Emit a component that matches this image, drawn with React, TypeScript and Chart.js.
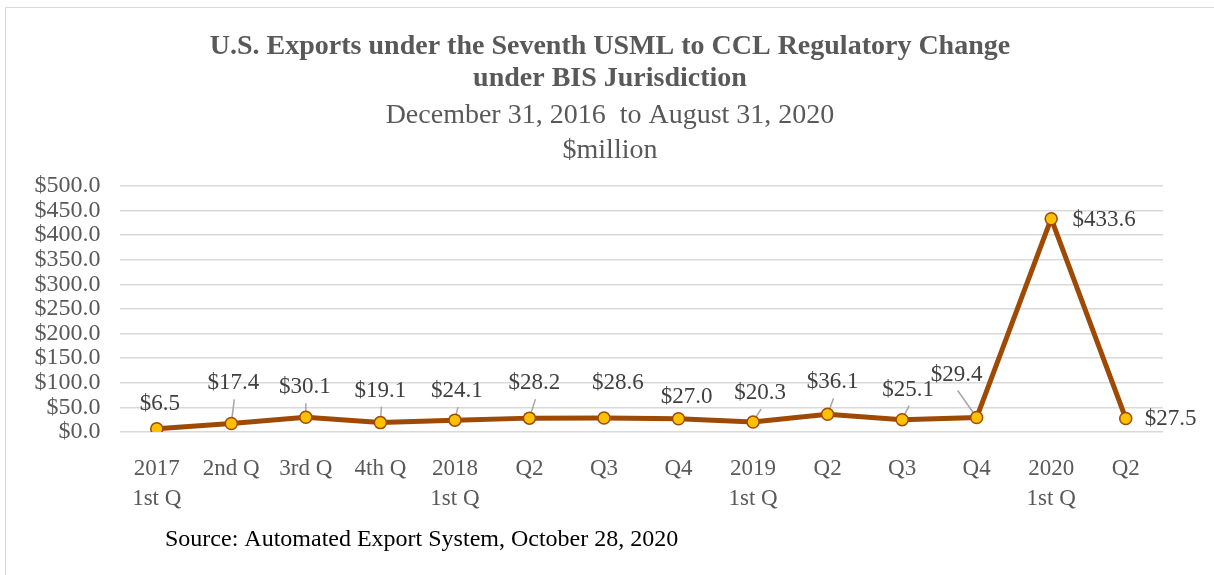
import React, { useEffect, useRef } from "react";
import { Chart, registerables } from "chart.js";

Chart.register(...registerables);

const categories: string[][] = [
  ["2017", "1st Q"], ["2nd Q"], ["3rd Q"], ["4th Q"],
  ["2018", "1st Q"], ["Q2"], ["Q3"], ["Q4"],
  ["2019", "1st Q"], ["Q2"], ["Q3"], ["Q4"],
  ["2020", "1st Q"], ["Q2"],
];
const exportValues: number[] = [6.5, 17.4, 30.1, 19.1, 24.1, 28.2, 28.6, 27.0, 20.3, 36.1, 25.1, 29.4, 433.6, 27.5];
const yTicks: number[] = [0, 50, 100, 150, 200, 250, 300, 350, 400, 450, 500];

// label placement (offset of label centre from its point, pixels) and whether a leader line is drawn
const labelOffsets: [number, number, boolean][] = [
  [3, -25, false], [2, -40, true], [-1, -30, true], [0, -32, true],
  [2, -29, true], [5, -35, true], [14, -35, false], [8, -22, false],
  [7, -29, true], [5, -32, true], [6, -30, true], [-20, -43, true],
  [53, 1, false], [45, 0, false],
];

const FONT = "'Liberation Serif', 'Times New Roman', serif";
const GRAY = "#595959";

const labelPlugin = {
  id: "valueLabels",
  beforeDatasetsDraw(chart: any) {
    const ctx = chart.ctx;
    const meta = chart.getDatasetMeta(0);
    ctx.save();
    ctx.strokeStyle = "#a6a6a6";
    ctx.lineWidth = 1.5;
    meta.data.forEach((pt: any, i: number) => {
      const [dx, dy, leader] = labelOffsets[i];
      if (!leader) return;
      const lx = pt.x + dx;
      const ly = pt.y + dy;
      ctx.beginPath();
      ctx.moveTo(lx + 1, ly + 16);
      ctx.lineTo(pt.x, pt.y);
      ctx.stroke();
    });
    ctx.restore();
  },
  afterDatasetsDraw(chart: any) {
    const ctx = chart.ctx;
    const meta = chart.getDatasetMeta(0);
    ctx.save();
    ctx.font = `23px ${FONT}`;
    ctx.fillStyle = "#404040";
    ctx.textAlign = "center";
    ctx.textBaseline = "middle";
    meta.data.forEach((pt: any, i: number) => {
      const [dx, dy] = labelOffsets[i];
      ctx.fillText("$" + exportValues[i].toFixed(1), pt.x + dx, pt.y + dy);
    });
    ctx.restore();
  },
  afterDraw(chart: any) {
    const ctx = chart.ctx;
    ctx.save();
    ctx.font = `24px ${FONT}`;
    ctx.fillStyle = "#000000";
    ctx.textAlign = "left";
    ctx.textBaseline = "middle";
    ctx.fillText("Source: Automated Export System, October 28, 2020", 165, 540);
    ctx.restore();
  },
};

export default function App() {
  const ref = useRef<HTMLCanvasElement | null>(null);
  useEffect(() => {
    document.body.style.margin = "0";
    if (!ref.current) return;
    const chart = new Chart(ref.current, {
      type: "line",
      data: {
        labels: categories,
        datasets: [
          {
            data: exportValues,
            yAxisID: "y",
            borderColor: "#9E4A04",
            borderWidth: 5,
            pointRadius: 6,
            pointBackgroundColor: "#FFC000",
            pointBorderColor: "#9E4A04",
            pointBorderWidth: 1.5,
            tension: 0,
          },
        ],
      },
      options: {
        responsive: false,
        animation: false,
        devicePixelRatio: 1,
        layout: { padding: { left: 30, right: 24, top: 0, bottom: 0 } },
        plugins: {
          legend: { display: false },
          tooltip: { enabled: false },
          title: {
            display: true,
            text: [
              "U.S. Exports under the Seventh USML to CCL Regulatory Change",
              "under BIS Jurisdiction",
            ],
            color: GRAY,
            font: { family: FONT, size: 28, weight: "bold", lineHeight: 32 / 28 },
            padding: { top: 31, bottom: 0 },
          },
          subtitle: {
            display: true,
            text: ["December 31, 2016  to August 31, 2020", "$million"],
            color: GRAY,
            font: { family: FONT, size: 28, lineHeight: 35 / 28 },
            padding: { top: 3.5, bottom: 17.5 },
          },
        },
        scales: {
          x: {
            offset: true,
            grid: { display: false },
            border: { display: false },
            ticks: {
              color: GRAY,
              font: { family: FONT, size: 23, lineHeight: 30 / 23 },
              maxRotation: 0,
              autoSkip: false,
              padding: 14,
            },
            afterFit: (s: any) => { s.height = 143; },
          },
          y: {
            min: 0,
            max: 500,
            afterBuildTicks: (s: any) => { s.ticks = yTicks.map((v) => ({ value: v })); },
            grid: { color: "#d9d9d9", lineWidth: 1.5, drawTicks: false },
            border: { display: false },
            ticks: {
              color: GRAY,
              font: { family: FONT, size: 24 },
              padding: 19,
              autoSkip: false,
              callback: (v: any) => "$" + Number(v).toFixed(1),
            },
            afterFit: (s: any) => { s.width = 89.5; },
          },
          yRightSpace: {
            position: "right",
            grid: { display: false },
            border: { display: false },
            ticks: { display: false },
            afterFit: (s: any) => { s.width = 27; },
          },
        },
      },
      plugins: [labelPlugin],
    });
    return () => chart.destroy();
  }, []);
  return (
    <div style={{ position: "relative", width: 1214, height: 575, background: "#fff" }}>
      <canvas ref={ref} width={1214} height={575} style={{ display: "block" }} />
      <div
        style={{
          position: "absolute",
          left: 5,
          top: 7,
          right: -2,
          bottom: -2,
          borderTop: "1.5px solid #d9d9d9",
          borderLeft: "1.5px solid #d9d9d9",
          pointerEvents: "none",
        }}
      />
    </div>
  );
}
